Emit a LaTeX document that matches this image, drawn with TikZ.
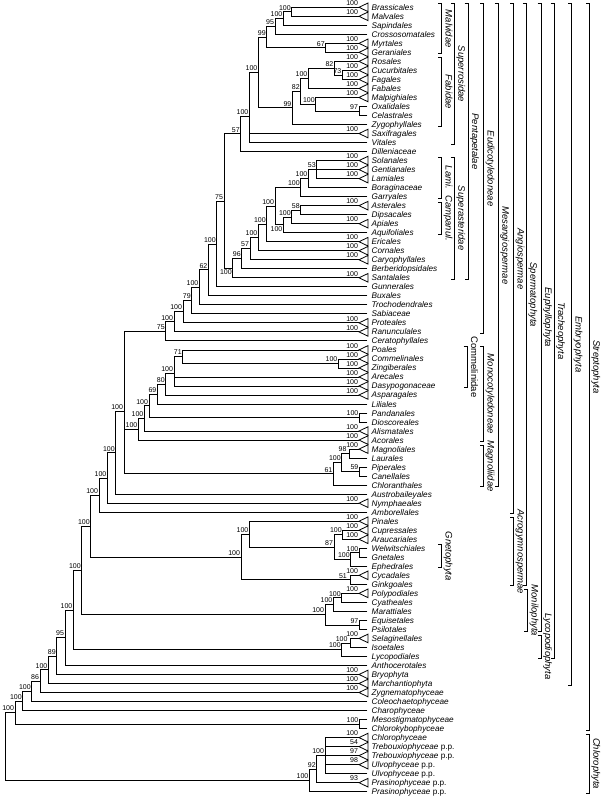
\documentclass[tikz,border=0pt]{standalone}
\usepackage{fontspec}
\setmainfont{Liberation Sans}
\usetikzlibrary{calc}
\newcommand\rowy[1]{(7.3+9.016*(#1-1))}
\tikzset{
 br/.style={line width=0.8pt, line cap=rect},
 tri/.style={line width=0.8pt, line join=miter},
 bs/.style={anchor=south east, inner xsep=0.8pt, inner ysep=1.5pt, font=\fontsize{7}{8}\selectfont},
 bsb/.style={anchor=north east},
 tl/.style={anchor=base west, inner sep=0pt, font=\fontsize{8.2}{9}\selectfont\itshape},
 bk/.style={line width=0.8pt},
 cl/.style={rotate=-90, anchor=base, inner sep=0pt, font=\fontsize{9.5}{10}\selectfont\itshape},
}
\newcommand\tipp[3]{%
 \coordinate (#1) at (367,{\rowy{#2}});
 \node[tl] (#1-n) at (371.5,{\rowy{#2}+3}) {#3};}
\newcommand\tipt[4]{%
 \coordinate (#1) at (359,{\rowy{#2}});
 \draw[tri] (#1) -- ++(9,-4.3) -- ++(0,8.6) -- cycle;
 \node[bs] (#1-s) at (#1) {#4};
 \node[tl] (#1-n) at (371.5,{\rowy{#2}+3}) {#3};}
\newcommand\bn[6][]{%
 \path let \p1=(#4), \p2=(#5) in coordinate (#2) at ({#3pt},{0.5*\y1+0.5*\y2});
 \draw[br] (#4) -| (#2);
 \draw[br] (#5) -| (#2);
 \node[bs,#1] (#2-s) at (#2) {#6};}
\newcommand\tn[6]{%
 \path let \p1=(#3), \p2=(#4), \p3=(#5) in coordinate (#1) at ({#2pt},{(\y1+\y2+\y3)/3});
 \draw[br] (#3) -| (#1);
 \draw[br] (#4) -| (#1);
 \draw[br] (#5) -| (#1);
 \node[bs] (#1-s) at (#1) {#6};}
\newcommand\clade[5]{%
 \draw[bk] ({#1-3.5},{\rowy{#2}-3.5}) -- (#1,{\rowy{#2}-3.5}) -- (#1,{\rowy{#3}+1.5}) -- ({#1-3.5},{\rowy{#3}+1.5});
 \node[cl] (#5) at ({#1+4},{(\rowy{#2}+\rowy{#3}-2)/2}) {#4};}
\begin{document}
\begin{tikzpicture}[x=1pt,y=-1pt]
\fill[white] (0,0) rectangle (600,798);
\useasboundingbox (0,0) rectangle (600,798);
% ---------- tips ----------
\tipt{t1}{1}{Brassicales}{100}
\tipt{t2}{2}{Malvales}{100}
\tipp{t3}{3}{Sapindales}
\tipp{t4}{4}{Crossosomatales}
\tipt{t5}{5}{Myrtales}{100}
\tipt{t6}{6}{Geraniales}{100}
\tipt{t7}{7}{Rosales}{100}
\tipt{t8}{8}{Cucurbitales}{100}
\tipt{t9}{9}{Fagales}{100}
\tipt{t10}{10}{Fabales}{100}
\tipt{t11}{11}{Malpighiales}{100}
\tipp{t12}{12}{Oxalidales}
\tipp{t13}{13}{Celastrales}
\tipp{t14}{14}{Zygophyllales}
\tipt{t15}{15}{Saxifragales}{100}
\tipp{t16}{16}{Vitales}
\tipp{t17}{17}{Dilleniaceae}
\tipt{t18}{18}{Solanales}{100}
\tipt{t19}{19}{Gentianales}{100}
\tipt{t20}{20}{Lamiales}{100}
\tipp{t21}{21}{Boraginaceae}
\tipp{t22}{22}{Garryales}
\tipt{t23}{23}{Asterales}{100}
\tipp{t24}{24}{Dipsacales}
\tipt{t25}{25}{Apiales}{100}
\tipp{t26}{26}{Aquifoliales}
\tipt{t27}{27}{Ericales}{100}
\tipt{t28}{28}{Cornales}{100}
\tipt{t29}{29}{Caryophyllales}{100}
\tipp{t30}{30}{Berberidopsidales}
\tipt{t31}{31}{Santalales}{100}
\tipp{t32}{32}{Gunnerales}
\tipp{t33}{33}{Buxales}
\tipp{t34}{34}{Trochodendrales}
\tipp{t35}{35}{Sabiaceae}
\tipt{t36}{36}{Proteales}{100}
\tipt{t37}{37}{Ranunculales}{100}
\tipp{t38}{38}{Ceratophyllales}
\tipt{t39}{39}{Poales}{100}
\tipt{t40}{40}{Commelinales}{100}
\tipt{t41}{41}{Zingiberales}{100}
\tipt{t42}{42}{Arecales}{100}
\tipt{t43}{43}{Dasypogonaceae}{100}
\tipt{t44}{44}{Asparagales}{100}
\tipp{t45}{45}{Liliales}
\tipp{t46}{46}{Pandanales}
\tipp{t47}{47}{Dioscoreales}
\tipt{t48}{48}{Alismatales}{100}
\tipt{t49}{49}{Acorales}{100}
\tipt{t50}{50}{Magnoliales}{100}
\tipp{t51}{51}{Laurales}
\tipp{t52}{52}{Piperales}
\tipp{t53}{53}{Canellales}
\tipp{t54}{54}{Chloranthales}
\tipp{t55}{55}{Austrobaileyales}
\tipt{t56}{56}{Nymphaeales}{100}
\tipp{t57}{57}{Amborellales}
\tipt{t58}{58}{Pinales}{100}
\tipt{t59}{59}{Cupressales}{100}
\tipt{t60}{60}{Araucariales}{100}
\tipp{t61}{61}{Welwitschiales}
\tipp{t62}{62}{Gnetales}
\tipp{t63}{63}{Ephedrales}
\tipt{t64}{64}{Cycadales}{100}
\tipp{t65}{65}{Ginkgoales}
\tipt{t66}{66}{Polypodiales}{100}
\tipp{t67}{67}{Cyatheales}
\tipp{t68}{68}{Marattiales}
\tipp{t69}{69}{Equisetales}
\tipp{t70}{70}{Psilotales}
\tipt{t71}{71}{Selaginellales}{100}
\tipp{t72}{72}{Isoetales}
\tipp{t73}{73}{Lycopodiales}
\tipp{t74}{74}{Anthocerotales}
\tipt{t75}{75}{Bryophyta}{100}
\tipt{t76}{76}{Marchantiophyta}{100}
\tipt{t77}{77}{Zygnematophyceae}{100}
\tipp{t78}{78}{Coleochaetophyceae}
\tipp{t79}{79}{Charophyceae}
\tipp{t80}{80}{Mesostigmatophyceae}
\tipp{t81}{81}{Chlorokybophyceae}
\tipt{t82}{82}{Chlorophyceae}{100}
\tipt{t83}{83}{Trebouxiophyceae \upshape p.p.}{54}
\tipt{t84}{84}{Trebouxiophyceae \upshape p.p.}{97}
\tipt{t85}{85}{Ulvophyceae \upshape p.p.}{98}
\tipp{t86}{86}{Ulvophyceae \upshape p.p.}
\tipt{t87}{87}{Prasinophyceae \upshape p.p.}{93}
\tipp{t88}{88}{Prasinophyceae \upshape p.p.}
% ---------- rosids / Superrosidae ----------
\bn{nA}{291.7}{t1}{t2}{100}
\bn{nB}{283.3}{nA}{t3}{100}
\bn{nC}{275}{nB}{t4}{95}
\bn{nE}{325.7}{t5}{t6}{67}
\bn{nD}{266.7}{nC}{nE}{99}
\bn{nF}{342.3}{t8}{t9}{73}
\bn{nG}{334.3}{t7}{nF}{82}
\bn{nH}{308.3}{nG}{t10}{100}
\bn{nI}{359}{t12}{t13}{97}
\bn{nJ}{315.7}{t11}{nI}{100}
\bn{nK}{300.7}{nH}{nJ}{82}
\bn{nL}{292.3}{nK}{t14}{99}
\bn{nM}{258.3}{nD}{nL}{100}
\tn{nN}{249.3}{nM}{t15}{t16}{100}
\bn{nP}{240.7}{nN}{t17}{57}
% ---------- Superasteridae ----------
\tn{la}{316.7}{t18}{t19}{t20}{53}
\bn{lb}{308.3}{la}{t21}{100}
\bn{lc}{300.7}{lb}{t22}{100}
\bn{ca}{300.7}{t23}{t24}{58}
\bn{cb}{291.7}{ca}{t25}{100}
\bn[bsb]{cc}{283.3}{cb}{t26}{100}
\bn{as1}{275}{lc}{cc}{100}
\bn{as2}{266.7}{as1}{t27}{100}
\bn{as3}{258.3}{as2}{t28}{100}
\bn{as4}{250}{as3}{t29}{57}
\bn{as5}{241.7}{as4}{t30}{96}
\bn[bsb]{as6}{232.7}{as5}{t31}{100}
\bn{pp}{224}{nP}{as6}{75}
\bn{e1}{216.7}{pp}{t32}{100}
\bn{e2}{208.3}{e1}{t33}{62}
\bn{e3}{199.3}{e2}{t34}{100}
\bn{e4}{191.7}{e3}{t35}{79}
\bn{e5}{183}{e4}{t36}{100}
\bn{e6}{174}{e5}{t37}{100}
\bn{e7}{165.7}{e6}{t38}{75}
% ---------- monocots ----------
\bn{m1}{338.3}{t40}{t41}{100}
\bn{m2}{182.7}{t39}{m1}{71}
\tn{m3}{174}{m2}{t42}{t43}{100}
\bn{m4}{165.7}{m3}{t44}{80}
\bn{m5}{157.3}{m4}{t45}{69}
\bn{m6}{359.3}{t46}{t47}{100}
\bn{m7}{149}{m5}{m6}{100}
\bn{m8}{144.3}{m7}{t48}{100}
\bn{m9}{138.3}{m8}{t49}{100}
% ---------- magnoliids ----------
\bn[xshift=-1.8pt]{g1}{349.3}{t50}{t51}{98}
\bn{g2}{359.3}{t52}{t53}{59}
\bn{g3}{341.7}{g1}{g2}{100}
\bn{g4}{333.3}{g3}{t54}{61}
% ---------- angiosperms ----------
\tn{ms}{124}{e7}{m9}{g4}{100}
\bn{an1}{115.7}{ms}{t55}{100}
\bn{an2}{107.3}{an1}{t56}{100}
\bn{ang}{99}{an2}{t57}{100}
% ---------- gymnosperms ----------
\bn{gy1}{342.7}{t59}{t60}{100}
\bn{gn1}{359.3}{t61}{t62}{100}
\bn{gn2}{350.7}{gn1}{t63}{100}
\bn{gy2}{334}{gy1}{gn2}{87}
\bn{gy3}{249.3}{t58}{gy2}{100}
\bn[xshift=-2.2pt]{gy4}{350}{t64}{t65}{51}
\bn{gym}{241}{gy3}{gy4}{100}
\bn{sp}{90.7}{ang}{gym}{100}
% ---------- monilophytes ----------
\bn{mo1}{341.7}{t66}{t67}{100}
\bn{mo2}{333.3}{mo1}{t68}{100}
\bn{mo3}{359.3}{t69}{t70}{97}
\bn{mo4}{325}{mo2}{mo3}{100}
\bn{eu}{81.7}{sp}{mo4}{100}
% ---------- lycophytes and below ----------
\bn[xshift=-1.5pt]{ly1}{350}{t71}{t72}{100}
\bn{ly2}{341.7}{ly1}{t73}{100}
\bn{tr}{73.3}{eu}{ly2}{100}
\bn{em1}{65}{tr}{t74}{95}
\bn{em2}{56.7}{em1}{t75}{89}
\bn{em3}{48.3}{em2}{t76}{100}
\bn{st1}{40}{em3}{t77}{86}
\bn{st2}{31.7}{st1}{t78}{100}
\bn{st3}{22.7}{st2}{t79}{100}
\bn{ck}{359.3}{t80}{t81}{100}
\bn{st4}{15}{st3}{ck}{100}
% ---------- Chlorophyta ----------
\path let \p1=(t82), \p2=(t83), \p3=(t84), \p4=(t85), \p5=(t86) in coordinate (ch1) at ({325pt},{(\y1+\y2+\y3+\y4+\y5)/5});
\foreach \c in {t82,t83,t84,t85,t86} {\draw[br] (\c) -| (ch1);}
\node[bs] (ch1-s) at (ch1) {100};
\bn{ch2}{316.7}{ch1}{t87}{92}
\bn{ch3}{309.3}{ch2}{t88}{100}
\path let \p1=(st4), \p2=(ch3) in coordinate (root) at ({5pt},{0.5*\y1+0.5*\y2});
\draw[br] (st4) -| (root);
\draw[br] (ch3) -| (root);
% ---------- clade brackets ----------
\clade{441.7}{1}{6}{Malvidae}{c1}
\clade{441.7}{7}{14}{Fabidae}{c2}
\clade{441.7}{18}{22}{Lami.}{c3}
\clade{441.7}{23}{26}{Campanul.}{c4}
\clade{441.7}{61}{63}{Gnetophyta}{c5}
\clade{454.3}{1}{16}{Superrosidae}{c6}
\clade{454.3}{18}{31}{Superasteridae}{c7}
\clade{468}{1}{31}{Pentapetalae}{c8}
\clade{467}{39}{43}{\upshape Commelinidae}{c9}
\clade{483.5}{1}{37}{Eudicotyledoneae}{c10}
\clade{483.5}{39}{49}{Monocotyledoneae}{c11}
\clade{483.5}{50}{54}{Magnoliidae}{c12}
\clade{498.3}{1}{54}{Mesangiospermae}{c13}
\clade{513.5}{1}{57}{Angiospermae}{c14}
\clade{513.5}{58}{65}{Acrogymnospermae}{c15}
\clade{526.3}{1}{65}{Spermatophyta}{c16}
\clade{527.5}{66}{70}{Monilophyta}{c17}
\clade{541}{1}{70}{Euphyllophyta}{c18}
\clade{541}{71}{73}{Lycopodiophyta}{c19}
\clade{554}{1}{73}{Tracheophyta}{c20}
\clade{571.7}{1}{76}{Embryophyta}{c21}
\clade{589.3}{1}{81}{Streptophyta}{c22}
\clade{589.3}{82}{88}{Chlorophyta}{c23}
\end{tikzpicture}
\end{document}
